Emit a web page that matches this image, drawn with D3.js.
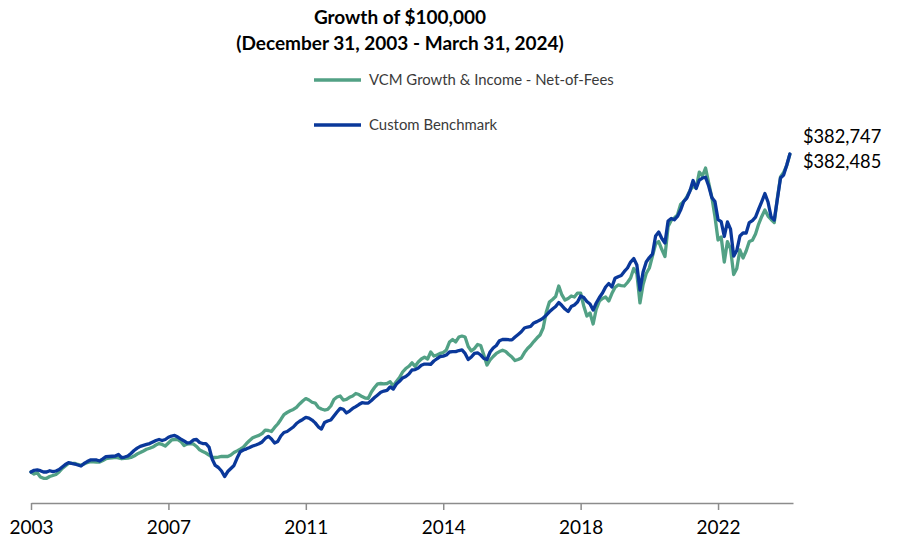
<!DOCTYPE html>
<html>
<head>
<meta charset="utf-8">
<script src="https://cdn.jsdelivr.net/npm/d3@7"></script>
<style>
  html, body { margin: 0; padding: 0; background: #ffffff; }
  svg { display: block; }
</style>
</head>
<body>
<svg id="chart" width="900" height="542"></svg>
<script>
// ---- Data (values in $ thousands, month-end, Dec 2003 .. Mar 2024) ----
const titleLines = ["Growth of $100,000", "(December 31, 2003 - March 31, 2024)"];
const seriesNames = ["VCM Growth & Income - Net-of-Fees", "Custom Benchmark"];
const tickIndex = [0, 44, 88, 132, 176, 220];
const tickLabels = ["2003", "2007", "2011", "2014", "2018", "2022"];
const endLabels = ["$382,747", "$382,485"];

const vcm = [100.0,98.2,99.3,95.6,94.4,94.4,96.0,96.9,97.8,100.0,
103.1,105.3,107.6,107.7,107.7,106.7,106.0,107.1,108.4,109.2,
109.1,108.9,108.9,110.2,111.8,112.3,112.6,113.1,112.6,111.8,
112.2,112.4,112.9,114.2,116.0,117.3,118.7,120.2,121.1,122.2,
124.0,125.3,124.5,123.1,125.8,128.5,128.9,128.9,127.1,123.6,
124.9,125.3,124.9,122.7,119.7,118.2,116.9,115.1,112.9,112.9,
113.3,113.8,113.8,113.8,115.1,117.3,118.8,120.4,122.2,125.3,
128.0,130.4,131.6,132.6,134.2,137.3,136.9,136.0,139.6,142.7,
146.7,151.1,152.9,154.4,155.6,157.5,160.5,163.1,165.3,164.0,
162.0,161.3,157.5,156.0,155.1,155.6,158.7,164.5,166.7,167.6,
164.0,164.5,166.4,167.6,169.8,168.9,167.1,165.8,165.5,171.1,
175.1,178.4,178.7,178.4,178.7,180.2,176.5,180.5,184.0,188.9,
192.0,194.0,197.1,194.0,197.8,200.5,202.2,200.5,206.7,203.1,
204.0,205.5,206.2,208.5,215.6,217.8,215.6,220.0,220.9,220.0,
211.6,207.6,209.8,213.4,212.5,204.0,195.1,199.6,202.7,205.4,
207.1,208.3,207.1,204.5,202.2,199.1,200.0,201.4,206.2,209.8,
212.5,216.0,219.1,221.8,228.0,242.3,251.1,253.4,256.0,265.4,
257.4,252.9,254.3,256.5,255.6,259.1,259.1,247.6,238.7,241.4,
231.6,244.9,252.0,254.3,255.6,252.0,258.7,264.0,266.3,265.8,
265.4,268.5,272.5,280.9,276.5,250.3,266.7,276.5,281.4,292.0,
302.7,304.9,297.8,291.6,318.3,323.6,325.8,328.5,337.8,340.5,
344.5,350.3,354.3,352.5,366.7,363.2,370.3,357.0,344.5,327.2,
306.3,308.9,286.7,304.9,298.3,275.6,280.9,297.4,290.3,296.5,
304.9,306.0,311.6,320.5,327.2,332.9,327.6,324.5,321.8,343.6,
362.3,366.3,372.5,382.485];

const benchmark = [100.0,101.5,101.8,101.2,100.0,100.0,101.1,100.3,100.9,102.2,
104.4,106.7,108.3,107.6,107.1,106.2,105.3,107.6,109.3,110.7,
110.7,110.7,109.8,111.6,113.6,113.8,114.0,114.2,115.6,112.8,
113.3,114.2,116.4,119.1,121.2,122.8,123.7,124.5,125.3,126.7,
128.0,128.9,128.0,128.9,130.9,132.0,132.5,131.1,129.3,127.6,
125.8,126.2,128.5,128.9,126.2,125.3,125.3,122.2,111.6,105.8,
104.0,100.9,96.0,100.4,103.1,105.8,112.4,118.0,119.6,120.6,
121.8,123.1,124.0,125.1,126.7,129.8,131.7,129.3,125.8,127.1,
132.0,135.1,136.0,138.0,140.0,143.1,145.1,146.7,148.6,148.0,
146.2,143.7,140.2,138.2,144.0,145.3,146.2,149.8,153.3,156.6,
155.8,152.5,154.2,156.5,158.2,160.0,161.6,161.3,161.3,163.6,
166.2,168.5,170.9,172.0,172.5,175.6,173.8,178.2,180.6,183.6,
184.9,187.1,190.7,191.0,192.5,194.9,196.0,196.0,195.8,198.7,
200.7,202.5,203.0,204.0,206.7,207.0,207.0,208.0,208.5,205.4,
200.0,202.2,205.5,206.0,204.0,200.9,200.0,206.7,210.2,212.5,
216.7,217.8,218.0,217.6,217.5,220.0,222.3,224.7,228.0,228.9,
229.5,232.5,233.7,235.1,236.9,239.4,242.4,244.9,247.1,250.7,
248.0,244.9,242.7,247.1,248.5,251.1,256.5,255.1,251.6,249.4,
244.0,250.3,255.1,259.1,264.5,267.6,264.5,272.2,273.6,274.7,
278.3,281.4,286.7,289.8,284.0,261.8,277.8,286.7,290.7,293.8,
309.8,313.4,307.6,303.6,323.2,325.4,324.3,327.2,332.9,340.5,
343.6,349.8,359.2,352.1,359.6,361.4,362.1,354.3,344.1,340.5,
324.5,322.7,309.4,322.3,316.0,292.0,296.9,309.8,312.5,312.5,
321.8,323.6,326.7,333.8,340.5,347.6,340.1,326.7,324.0,342.7,
361.4,364.1,373.0,382.747];

// ---- Styles ----
const GREEN = "#52a185";
const BLUE = "#0a389a";
const FONT = "Lato, 'Open Sans', sans-serif";

const svg = d3.select("#chart");
svg.append("rect").attr("width", 900).attr("height", 542).attr("fill", "#fff");

const x = d3.scaleLinear().domain([0, 244]).range([31, 793]);
const y = d3.scaleLinear().domain([70, 400]).range([505.74, 134.6]);

// Title
svg.append("text").attr("x", 400).attr("y", 23.5)
  .attr("text-anchor", "middle").attr("font-family", FONT)
  .attr("font-weight", "bold").attr("font-size", 19).attr("fill", "#000")
  .text(titleLines[0]);
svg.append("text").attr("x", 400).attr("y", 50)
  .attr("text-anchor", "middle").attr("font-family", FONT)
  .attr("font-weight", "bold").attr("font-size", 19).attr("fill", "#000")
  .text(titleLines[1]);

// Legend
const legend = [
  { name: seriesNames[0], color: GREEN, y: 80 },
  { name: seriesNames[1], color: BLUE, y: 125 }
];
legend.forEach(l => {
  svg.append("line").attr("x1", 314).attr("x2", 361).attr("y1", l.y).attr("y2", l.y)
    .attr("stroke", l.color).attr("stroke-width", 3.5);
  svg.append("text").attr("x", 369).attr("y", l.y).attr("dy", "0.35em")
    .attr("font-family", FONT).attr("font-size", 14.9).attr("fill", "#3a3a3a")
    .text(l.name);
});

// Axis
const axis = d3.axisBottom(x)
  .tickValues(tickIndex)
  .tickFormat((d, i) => tickLabels[i])
  .tickSize(7).tickSizeOuter(0).tickPadding(11);
const gAxis = svg.append("g").attr("transform", "translate(0,503)").call(axis);
gAxis.select(".domain").attr("stroke", "#8c8c8c").attr("stroke-width", 1.5);
gAxis.selectAll(".tick line").attr("stroke", "#8c8c8c").attr("stroke-width", 1.5);
gAxis.selectAll(".tick text").attr("font-family", FONT).attr("font-size", 19).attr("fill", "#000");

// Lines
const line = d3.line().x((d, i) => x(i)).y(d => y(d)).curve(d3.curveLinear);
svg.append("path").datum(vcm).attr("d", line)
  .attr("fill", "none").attr("stroke", GREEN).attr("stroke-width", 3.3)
  .attr("stroke-linejoin", "round").attr("stroke-linecap", "round");
svg.append("path").datum(benchmark).attr("d", line)
  .attr("fill", "none").attr("stroke", BLUE).attr("stroke-width", 3.3)
  .attr("stroke-linejoin", "round").attr("stroke-linecap", "round");

// End labels
const last = vcm.length - 1;
svg.append("text").attr("x", x(last) + 13).attr("y", y(benchmark[last]) - 17).attr("dy", "0.35em")
  .attr("font-family", FONT).attr("font-size", 18.3).attr("fill", "#000").text(endLabels[0]);
svg.append("text").attr("x", x(last) + 13).attr("y", y(vcm[last]) + 7).attr("dy", "0.35em")
  .attr("font-family", FONT).attr("font-size", 18.3).attr("fill", "#000").text(endLabels[1]);
</script>
</body>
</html>
